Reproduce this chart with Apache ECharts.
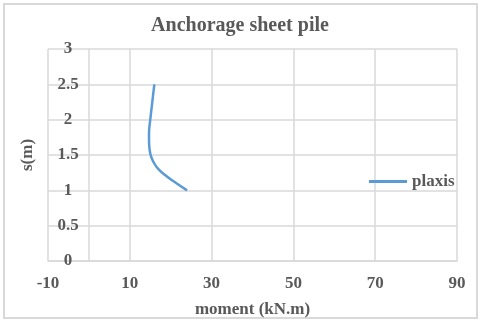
<!DOCTYPE html>
<html lang="en">
  <head>
    <meta charset="UTF-8" />
    <title>Anchorage sheet pile</title>
    <script src="https://cdn.jsdelivr.net/npm/echarts@6/dist/echarts.min.js"></script>
    <style>
      html,
      body {
        margin: 0;
        padding: 0;
        background: #fff;
      }
    </style>
  </head>
  <body>
    <div id="main" style="width: 480px; height: 322px"></div>
    <script type="text/javascript">
      // moment (kN.m) vs depth s (m)
      var moment = [24, 21.4, 19, 17, 15.8, 15.1, 14.8, 14.7, 14.7, 14.8, 15.0, 15.2, 15.4, 15.6, 15.8, 16.0];
      var depth = [1.0, 1.1, 1.2, 1.3, 1.4, 1.5, 1.6, 1.7, 1.8, 1.9, 2.0, 2.1, 2.2, 2.3, 2.4, 2.5];
      var xTicks = [-10, 10, 30, 50, 70, 90];

      var font = "Liberation Serif";
      var grey = "#595959";
      var gridCol = "#d9d9d9";

      var pts = [];
      for (var i = 0; i < moment.length; i++) {
        pts.push([moment[i], depth[i]]);
      }

      var myChart = echarts.init(document.getElementById("main"));
      var option = {
        animation: false,
        title: {
          text: "Anchorage sheet pile",
          left: "center",
          top: 11,
          textStyle: { fontFamily: font, fontWeight: "bold", fontSize: 20, color: grey },
        },
        graphic: [
          {
            type: "rect",
            shape: { x: 4, y: 4, width: 473, height: 314 },
            style: { fill: "none", stroke: gridCol, lineWidth: 2 },
          },
        ],
        legend: {
          left: 364,
          top: 168,
          icon: "rect",
          itemWidth: 38,
          itemHeight: 3,
          itemGap: 4,
          data: ["plaxis"],
          textStyle: { fontFamily: font, fontWeight: "bold", fontSize: 17, color: grey, padding: [0, 0, 0, 0] },
        },
        grid: { left: 48, right: 23, top: 49, bottom: 61, outerBoundsMode: "none" },
        xAxis: {
          type: "value",
          min: -10,
          max: 90,
          name: "moment (kN.m)",
          nameLocation: "middle",
          nameGap: 40,
          nameTextStyle: { fontFamily: font, fontWeight: "bold", fontSize: 17, color: grey },
          axisLine: { show: true, onZero: false, lineStyle: { color: gridCol, width: 1.5 } },
          axisTick: { show: false, customValues: xTicks },
          axisLabel: {
            customValues: xTicks,
            margin: 14,
            fontFamily: font,
            fontWeight: "bold",
            fontSize: 17,
            color: grey,
          },
          splitLine: { show: true, lineStyle: { color: gridCol, width: 1.5 } },
        },
        yAxis: {
          type: "value",
          min: 0,
          max: 3,
          interval: 0.5,
          name: "s(m)",
          nameLocation: "middle",
          nameGap: 12,
          nameRotate: 90,
          nameTextStyle: { fontFamily: font, fontWeight: "bold", fontSize: 17, color: grey },
          axisLine: { show: true, onZero: true, lineStyle: { color: gridCol, width: 1.5 } },
          axisTick: { show: false },
          axisLabel: {
            margin: -20,
            align: "center",
            fontFamily: font,
            fontWeight: "bold",
            fontSize: 17,
            color: grey,
          },
          splitLine: { show: true, lineStyle: { color: gridCol, width: 1.5 } },
        },
        series: [
          {
            name: "plaxis",
            type: "line",
            smooth: true,
            symbol: "none",
            data: pts,
            lineStyle: { color: "#5b9bd5", width: 2.5 },
            itemStyle: { color: "#5b9bd5" },
          },
        ],
      };
      myChart.setOption(option);
    </script>
  </body>
</html>
